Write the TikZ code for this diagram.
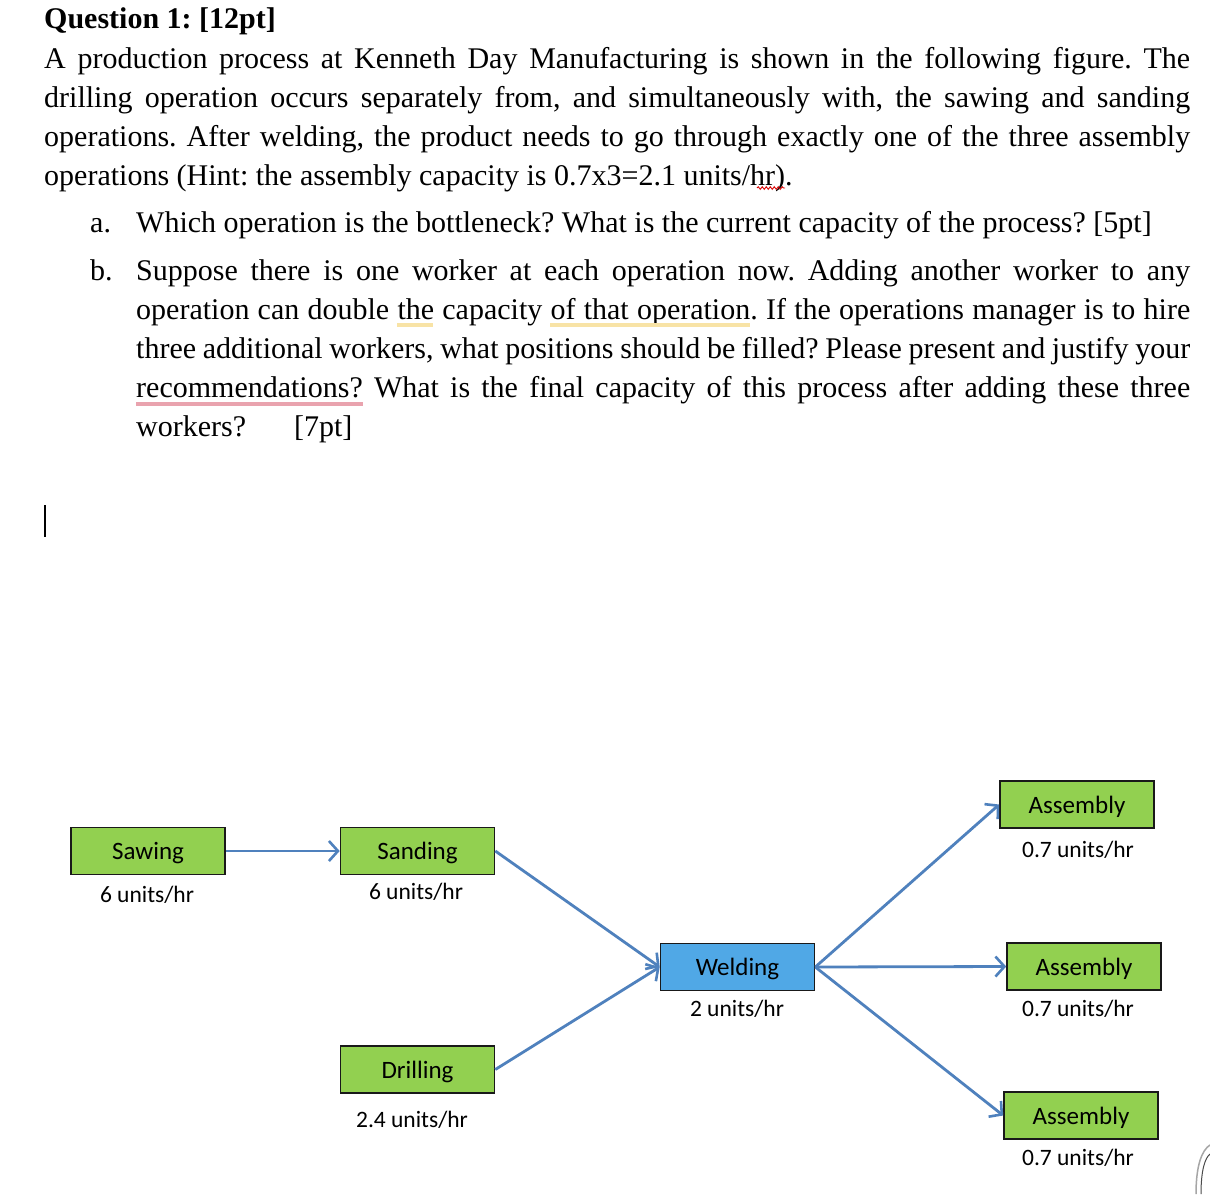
\documentclass[tikz,border=0pt]{standalone}
\usepackage{fontspec}
\setmainfont{Liberation Serif}
\newfontfamily\carlito{Carlito}
\usetikzlibrary{arrows.meta,decorations.pathmorphing}
\definecolor{boxgreen}{HTML}{92D050}
\definecolor{boxblue}{HTML}{50A8E6}
\definecolor{arrowblue}{HTML}{4F81BD}
\definecolor{hlyellow}{HTML}{F8E3A6}
\definecolor{hlpink}{HTML}{E9A3AE}
\frenchspacing
\newcommand{\boxtxt}[1]{\raisebox{-8.5pt}[0pt][0pt]{#1}}
\begin{document}
\begin{tikzpicture}[x=1pt,y=-1pt,
  txt/.style={anchor=base west, inner sep=0, font=\fontsize{30}{39}\selectfont\frenchspacing},
  opbox/.style={draw=black!90, line width=1.6pt, fill=boxgreen, minimum width=154pt, minimum height=47pt, inner sep=0, font=\carlito\fontsize{25}{30}\selectfont},
  lab/.style={inner sep=0, font=\carlito\fontsize{23.5}{28}\selectfont},
  arr/.style={draw=arrowblue, line width=2.8pt, -{Straight Barb[length=9pt,width=20pt,line width=2.6pt]}}]
\useasboundingbox (0,0) rectangle (1210,1194);
\fill[white] (0,0) rectangle (1210,1194);
% ---- text ----
\node[txt] (t0) at (44,28) {\bfseries Question 1: [12pt]};
\node[txt] (t1) at (44,68) {\makebox[1146pt][s]{A production process at Kenneth Day Manufacturing is shown in the following figure. The}};
\node[txt] (t2) at (44,107) {\makebox[1146pt][s]{drilling operation occurs separately from, and simultaneously with, the sawing and sanding}};
\node[txt] (t3) at (44,146) {\makebox[1146pt][s]{operations. After welding, the product needs to go through exactly one of the three assembly}};
\node[txt] (t4) at (44,185) {operations (Hint: the assembly capacity is 0.7x3=2.1 units/hr).};
\node[txt] (la) at (90,232) {a.};
\node[txt] (ta) at (136,232) {Which operation is the bottleneck? What is the current capacity of the process? [5pt]};
\node[txt] (lb) at (90,280) {b.};
\node[txt] (b1) at (136,280) {\makebox[1054pt][s]{Suppose there is one worker at each operation now. Adding another worker to any}};
\node[txt] (b2) at (136,319) {\makebox[1054pt][s]{operation can double the capacity of that operation. If the operations manager is to hire}};
\node[txt] (b3) at (136,358) {\makebox[1054pt][s]{three additional workers, what positions should be filled? Please present and justify your}};
\node[txt] (b4) at (136,397) {\makebox[1054pt][s]{recommendations? What is the final capacity of this process after adding these three}};
\node[txt] (b5) at (136,436) {workers?\hspace{48pt}[7pt]};
% markers
\draw[hlyellow, line width=4pt] (397,325) -- (433,325);
\draw[hlyellow, line width=4pt] (550,325) -- (750,325);
\draw[hlpink, line width=4.5pt] (136,404) -- (363,404);
\draw[red!85!black, line width=0.9pt, decorate, decoration={snake, amplitude=1.3pt, segment length=4pt}] (757,188) -- (785,188);
\draw[black, line width=1.6pt] (45,505) -- (45,537);
% ---- diagram ----
\node[opbox] (saw) at (148,851) {\boxtxt{Sawing}};
\node[opbox] (sand) at (417.5,851) {\boxtxt{Sanding}};
\node[opbox] (drill) at (417.5,1069.5) {\boxtxt{Drilling}};
\node[opbox, fill=boxblue] (weld) at (737.5,967) {\boxtxt{Welding}};
\node[opbox] (as1) at (1077,804.5) {\boxtxt{Assembly}};
\node[opbox] (as2) at (1084,966.5) {\boxtxt{Assembly}};
\node[opbox] (as3) at (1081,1115.5) {\boxtxt{Assembly}};
\node[lab] (sawl) at (147,895) {6 units/hr};
\node[lab] (sandl) at (416,892) {6 units/hr};
\node[lab] (drilll) at (412,1120) {2.4 units/hr};
\node[lab] (weldl) at (737,1009) {2 units/hr};
\node[lab] (as1l) at (1078,850) {0.7 units/hr};
\node[lab] (as2l) at (1078,1009) {0.7 units/hr};
\node[lab] (as3l) at (1078,1158) {0.7 units/hr};
\draw[arr] (saw.east) -- (sand.west);
\draw[arr] (sand.east) -- (weld.west);
\draw[arr] (drill.east) -- (weld.west);
\draw[arr] (weld.east) -- (as1.west);
\draw[arr] (weld.east) -- (as2.west);
\draw[arr] (weld.east) -- (as3.west);
% corner widget
\draw[black!35, line width=1.5pt] (1196,1194) .. controls (1196,1165) and (1202,1150) .. (1210,1145);
\draw[black!70, line width=1pt] (1201,1194) .. controls (1201,1170) and (1205,1158) .. (1210,1154);
\end{tikzpicture}
\end{document}
